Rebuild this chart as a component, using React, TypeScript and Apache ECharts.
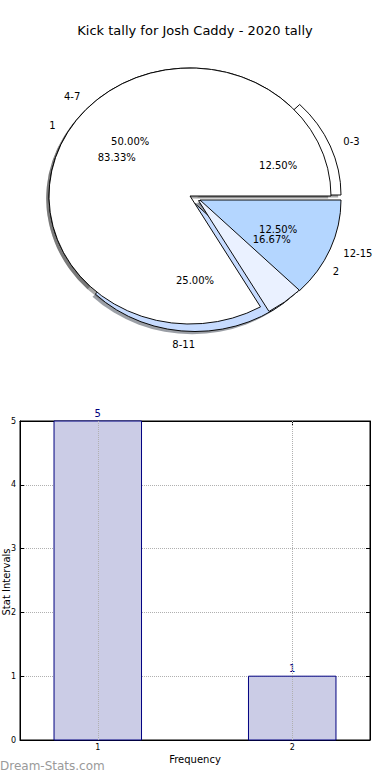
import React, { useEffect, useRef } from 'react';
import * as echarts from 'echarts';

const chartTitle = 'Kick tally for Josh Caddy - 2020 tally';

// Pie layer 1: kick intervals
const intervalLabels = ['0-3', '4-7', '8-11', '12-15'];
const intervalCounts = [1, 4, 2, 1];

// Pie layer 2: frequency
const freqLabels = ['1', '2'];
const freqCounts = [5, 1];

// Bar chart
const barCategories = [1, 2];
const barValues = [5, 1];

const xAxisName = 'Frequency';
const yAxisName = 'Stat Intervals';
const watermark = 'Dream-Stats.com';

// ---- layout / style (not data) ----
const FONT = 'DejaVu Sans';
const PIE_CX = 190;
const PIE_CY = 196;
const PIE_RX = 141;
const PIE_RY = 128;
const intervalOffsets = [[10, -1], [0, 0], [5, 7.5], [10, 4]];
const freqOffsets = [[0, 0], [8.5, 4.6]];
const intervalColors = ['#ffffff', '#ffffff', '#c6dbff', '#b4d6ff'];
const freqColors = ['#ffffff', '#eaf1ff'];
const intervalLayers = [2, 3, 1, 6];
const freqLayers = [4, 5];
const BAR_WIDTH_UNITS = 0.45;

function cumulativeData(counts: number[]) {
  let acc = 0;
  return counts.map((c) => {
    const row = [c, acc];
    acc += c;
    return row;
  });
}

function pieRenderer(
  labels: string[],
  counts: number[],
  offsets: number[][],
  colors: string[],
  layers: number[]
) {
  const total = counts.reduce((a, b) => a + b, 0);
  return (params: any, api: any) => {
    const i = params.dataIndex;
    const v = api.value(0);
    const start = api.value(1);
    const t1 = (2 * Math.PI * start) / total;
    const t2 = (2 * Math.PI * (start + v)) / total;
    const mid = (t1 + t2) / 2;
    const [dx, dy] = offsets[i];
    const cx = PIE_CX + dx;
    const cy = PIE_CY + dy;
    const sy = PIE_RY / PIE_RX;
    const shape = { cx: 0, cy: 0, r0: 0, r: PIE_RX, startAngle: -t1, endAngle: -t2, clockwise: false };
    const shadowFill = colors[i] === '#ffffff' ? 'rgba(77,77,77,0.5)' : 'rgba(55,64,77,0.5)';
    const cos = Math.cos(mid);
    const sin = Math.sin(mid);
    const lx = cx + 1.1 * PIE_RX * cos;
    const ly = cy - 1.1 * PIE_RY * sin;
    const px = cx + 0.6 * PIE_RX * cos;
    const py = cy - 0.6 * PIE_RY * sin;
    const align = cos > 0 ? 'left' : 'right';
    const pct = ((100 * v) / total).toFixed(2) + '%';
    return {
      type: 'group',
      children: [
        {
          type: 'group',
          x: cx - 2.8,
          y: cy + 2.6,
          scaleY: sy,
          children: [{ type: 'sector', shape, style: { fill: shadowFill }, z2: 0 }],
        },
        {
          type: 'group',
          x: cx,
          y: cy,
          scaleY: sy,
          children: [
            {
              type: 'sector',
              shape,
              style: { fill: colors[i], stroke: '#000', lineWidth: 1 },
              z2: layers[i],
            },
          ],
        },
        {
          type: 'text',
          x: lx,
          y: ly,
          z2: 20,
          style: {
            text: labels[i],
            fill: '#000',
            fontSize: 10,
            fontFamily: FONT,
            align,
            textAlign: align,
            verticalAlign: 'middle',
            textVerticalAlign: 'middle',
          },
        },
        {
          type: 'text',
          x: px,
          y: py,
          z2: 20,
          style: {
            text: pct,
            fill: '#000',
            fontSize: 10,
            fontFamily: FONT,
            align: 'center',
            textAlign: 'center',
            verticalAlign: 'middle',
            textVerticalAlign: 'middle',
          },
        },
      ],
    };
  };
}

function barRenderer(params: any, api: any) {
  const x = api.value(0);
  const v = api.value(1);
  const top = api.coord([x, v]);
  const base = api.coord([x, 0]);
  const w = api.size([BAR_WIDTH_UNITS, 0])[0];
  return {
    type: 'group',
    children: [
      {
        type: 'rect',
        shape: { x: top[0] - w / 2, y: top[1], width: w, height: base[1] - top[1] },
        style: { fill: '#cbcce6', stroke: '#000080', lineWidth: 1 },
        z2: 1,
      },
      {
        type: 'text',
        x: top[0],
        y: top[1] - 3,
        z2: 5,
        style: {
          text: String(v),
          fill: '#000080',
          fontSize: 10,
          fontFamily: FONT,
          align: 'center',
          textAlign: 'center',
          verticalAlign: 'bottom',
          textVerticalAlign: 'bottom',
        },
      },
    ],
  };
}

export default function App() {
  const ref = useRef<HTMLDivElement>(null);

  useEffect(() => {
    if (!ref.current) return;
    const chart = echarts.init(ref.current, undefined, { renderer: 'svg' });
    const option: any = {
      animation: false,
      backgroundColor: '#ffffff',
      textStyle: { fontFamily: FONT },
      title: {
        text: chartTitle,
        left: 'center',
        top: 24,
        padding: 0,
        textStyle: { fontSize: 13, fontWeight: 'normal', color: '#000', fontFamily: FONT },
      },
      grid: {
        left: 20,
        right: 20,
        top: 421,
        bottom: 40,
        show: true,
        borderColor: '#000',
        borderWidth: 1,
        backgroundColor: 'transparent',
        outerBoundsMode: 'none',
      },
      xAxis: [
        {
          type: 'value',
          min: 0.6,
          max: 2.4,
          interval: 0.6,
          position: 'bottom',
          axisLine: { show: true, onZero: false, lineStyle: { color: '#000' } },
          axisTick: { show: true, inside: true, length: 4, customValues: barCategories, lineStyle: { color: '#000' } },
          axisLabel: { customValues: barCategories, fontSize: 8, color: '#000', margin: 3, fontFamily: FONT },
          splitLine: { show: false },
          name: xAxisName,
          nameLocation: 'middle',
          nameGap: 14,
          nameTextStyle: { fontSize: 10, color: '#000', fontFamily: FONT },
        },
        {
          type: 'value',
          min: 0.6,
          max: 2.4,
          interval: 0.6,
          position: 'top',
          axisLine: { show: true, onZero: false, lineStyle: { color: '#000' } },
          axisTick: { show: true, inside: true, length: 4, customValues: barCategories, lineStyle: { color: '#000' } },
          axisLabel: { show: false },
          splitLine: { show: false },
        },
      ],
      yAxis: [
        {
          type: 'value',
          min: 0,
          max: 5,
          interval: 1,
          axisLine: { show: true, onZero: false, lineStyle: { color: '#000' } },
          axisTick: { show: true, inside: true, length: 4, lineStyle: { color: '#000' } },
          axisLabel: { fontSize: 8, color: '#000', margin: 4, fontFamily: FONT },
          splitLine: { show: true, lineStyle: { type: 'dotted', color: '#b0b0b0', width: 1 } },
        },
        {
          type: 'value',
          min: 0,
          max: 5,
          interval: 1,
          position: 'right',
          axisLine: { show: true, onZero: false, lineStyle: { color: '#000' } },
          axisTick: { show: true, inside: true, length: 4, lineStyle: { color: '#000' } },
          axisLabel: { show: false },
          splitLine: { show: false },
        },
      ],
      graphic: [
        {
          type: 'text',
          x: 6,
          y: 582,
          rotation: Math.PI / 2,
          style: {
            text: yAxisName,
            fill: '#000',
            fontSize: 10,
            fontFamily: FONT,
            align: 'center',
            textAlign: 'center',
            verticalAlign: 'middle',
            textVerticalAlign: 'middle',
          },
        },
        {
          type: 'text',
          left: 0,
          top: 760,
          style: { text: watermark, fill: '#9a9a9a', fontSize: 12, fontFamily: FONT },
        },
      ],
      series: [
        {
          type: 'custom',
          coordinateSystem: 'none',
          silent: true,
          data: cumulativeData(intervalCounts),
          renderItem: pieRenderer(intervalLabels, intervalCounts, intervalOffsets, intervalColors, intervalLayers),
        },
        {
          type: 'custom',
          coordinateSystem: 'none',
          silent: true,
          data: cumulativeData(freqCounts),
          renderItem: pieRenderer(freqLabels, freqCounts, freqOffsets, freqColors, freqLayers),
        },
        {
          type: 'custom',
          coordinateSystem: 'cartesian2d',
          xAxisIndex: 0,
          yAxisIndex: 0,
          silent: true,
          data: barCategories.map((c, i) => [c, barValues[i]]),
          renderItem: barRenderer,
          markLine: {
            silent: true,
            symbol: 'none',
            label: { show: false },
            lineStyle: { type: 'dotted', color: '#b0b0b0', width: 1 },
            data: barCategories.map((c) => ({ xAxis: c })),
          },
        },
      ],
    };
    chart.setOption(option);
    return () => chart.dispose();
  }, []);

  return (
    <div
      ref={ref}
      style={{ position: 'absolute', left: 0, top: 0, width: 390, height: 780 }}
    />
  );
}
